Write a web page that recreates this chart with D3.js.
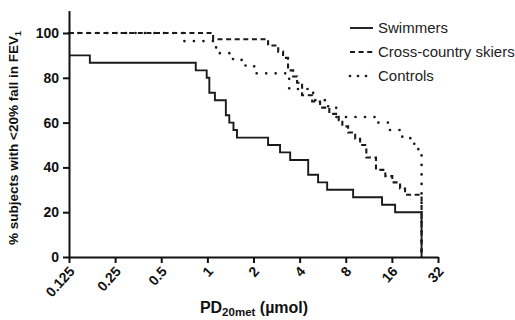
<!DOCTYPE html>
<html>
<head>
<meta charset="utf-8">
<script src="https://cdn.jsdelivr.net/npm/d3@7"></script>
<style>
  html, body { margin: 0; padding: 0; background: #fff; }
  svg { display: block; font-family: "Liberation Sans", Arial, sans-serif; }
</style>
</head>
<body>
<svg id="chart" width="515" height="320"></svg>
<script>
// ---- data ----
const xTickValues = [0.125, 0.25, 0.5, 1, 2, 4, 8, 16, 32];
const xTickLabels = ["0.125", "0.25", "0.5", "1", "2", "4", "8", "16", "32"];
const yTickValues = [0, 20, 40, 60, 80, 100];
const seriesNames = ["Swimmers", "Cross-country skiers", "Controls"];

const swimDose = [0.125, 0.171, 0.84, 0.99, 1.03, 1.12, 1.32, 1.39, 1.48, 1.56, 2.49, 2.98, 3.47, 4.55, 5.28, 6.05, 8.94, 13.8, 16.8, 25];
const swimPct  = [90, 86.7, 83.3, 80, 73.3, 70, 63.3, 60, 56.7, 53.3, 50, 46.7, 43.3, 36.7, 33.3, 30, 26.7, 23.3, 20, 0];

const skiDose = [0.125, 1.09, 2.49, 2.90, 3.12, 3.36, 3.63, 3.85, 4.15, 4.83, 5.44, 6.25, 7.2, 7.6, 8.29, 9.22, 9.93, 10.9, 12.6, 14.5, 16.1, 18.1, 19.5, 25];
const skiPct  = [100, 97.2, 94.4, 91.7, 88.9, 83.3, 80.6, 77.8, 72.2, 69.4, 66.7, 63.9, 61.1, 58.3, 55.6, 52.8, 50, 44.4, 38.9, 36.1, 33.3, 30.6, 27.8, 0];

const ctrlDose = [0.125, 0.694, 1.14, 1.47, 1.71, 2.02, 3.42, 4.90, 6.14, 6.93, 12.6, 15.1, 18.1, 21.1, 22.4, 23.8, 25];
const ctrlPct  = [100, 96.4, 91, 88, 85.5, 82, 75, 70, 67, 62.5, 60, 56.7, 53.7, 52, 49, 45.5, 0];

// ---- chart ----
const svg = d3.select("#chart");
const x = d3.scaleLog().base(2).domain([0.125, 32]).range([69, 438]);
const y = d3.scaleLinear().domain([0, 110]).range([257, 10.6]);

const line = d3.line().x(d => x(d[0])).y(d => y(d[1])).curve(d3.curveStepAfter);
const zip = (a, b) => a.map((v, i) => [v, b[i]]);

const series = [
  { pts: zip(ctrlDose, ctrlPct), dash: "0,9.5", width: 2.7, cap: "round" },
  { pts: zip(skiDose, skiPct), dash: "5,3.6", width: 2.1, cap: "butt" },
  { pts: zip(swimDose, swimPct), dash: null, width: 1.9, cap: "butt" }
];

series.forEach(s => {
  svg.append("path")
    .attr("d", line(s.pts))
    .attr("fill", "none")
    .attr("stroke", "#1a1a1a")
    .attr("stroke-width", s.width)
    .attr("stroke-linecap", s.cap)
    .attr("stroke-dasharray", s.dash);
});

// axes
const yAxis = d3.axisLeft(y).tickValues(yTickValues).tickSize(6).tickSizeOuter(0).tickPadding(4);
const gy = svg.append("g").attr("transform", "translate(69,0)").call(yAxis);
gy.select(".domain").attr("stroke", "#111").attr("stroke-width", 2);
gy.selectAll(".tick line").attr("stroke", "#111").attr("stroke-width", 2);
gy.selectAll(".tick text").attr("font-size", 14).attr("font-weight", "bold").attr("fill", "#111")
  .attr("font-family", "'Liberation Sans', Arial, sans-serif");

const xAxis = d3.axisBottom(x).tickValues(xTickValues).tickSize(6).tickSizeOuter(0)
  .tickFormat((d, i) => xTickLabels[i]);
const gx = svg.append("g").attr("transform", "translate(0,257)").call(xAxis);
gx.select(".domain").attr("stroke", "#111").attr("stroke-width", 2);
gx.selectAll(".tick line").attr("stroke", "#111").attr("stroke-width", 2);
gx.selectAll(".tick text")
  .attr("font-size", 14).attr("font-weight", "bold").attr("fill", "#111")
  .attr("font-family", "'Liberation Sans', Arial, sans-serif")
  .attr("text-anchor", "end")
  .attr("dy", null).attr("y", 0)
  .attr("transform", "translate(6,15) rotate(-48)");

// y title
svg.append("text")
  .attr("transform", "translate(18,138) rotate(-90)")
  .attr("text-anchor", "middle")
  .attr("font-size", 13.5).attr("font-weight", "bold").attr("fill", "#111")
  .text("% subjects with <20% fall in FEV")
  .append("tspan").attr("font-size", 9).attr("dy", 3).text("1");

// x title
const xt = svg.append("text")
  .attr("x", 254).attr("y", 313)
  .attr("text-anchor", "middle")
  .attr("font-size", 16).attr("font-weight", "bold").attr("fill", "#111");
xt.append("tspan").text("PD");
xt.append("tspan").attr("font-size", 11.5).attr("dy", 3).text("20met");
xt.append("tspan").attr("dy", -3).text(" (\u00b5mol)");

// legend
const legY = [28, 52, 76];
const legDash = [null, "5,3.6", "0,8"];
const legCap = ["butt", "butt", "round"];
const legW = [1.9, 2.1, 2.7];
seriesNames.forEach((name, i) => {
  svg.append("line")
    .attr("x1", 350).attr("x2", 373).attr("y1", legY[i]).attr("y2", legY[i])
    .attr("stroke", "#1a1a1a").attr("stroke-width", legW[i])
    .attr("stroke-linecap", legCap[i]).attr("stroke-dasharray", legDash[i]);
  svg.append("text")
    .attr("x", 378).attr("y", legY[i]).attr("dy", "0.36em")
    .attr("font-size", 15).attr("fill", "#222")
    .text(name);
});
</script>
</body>
</html>
